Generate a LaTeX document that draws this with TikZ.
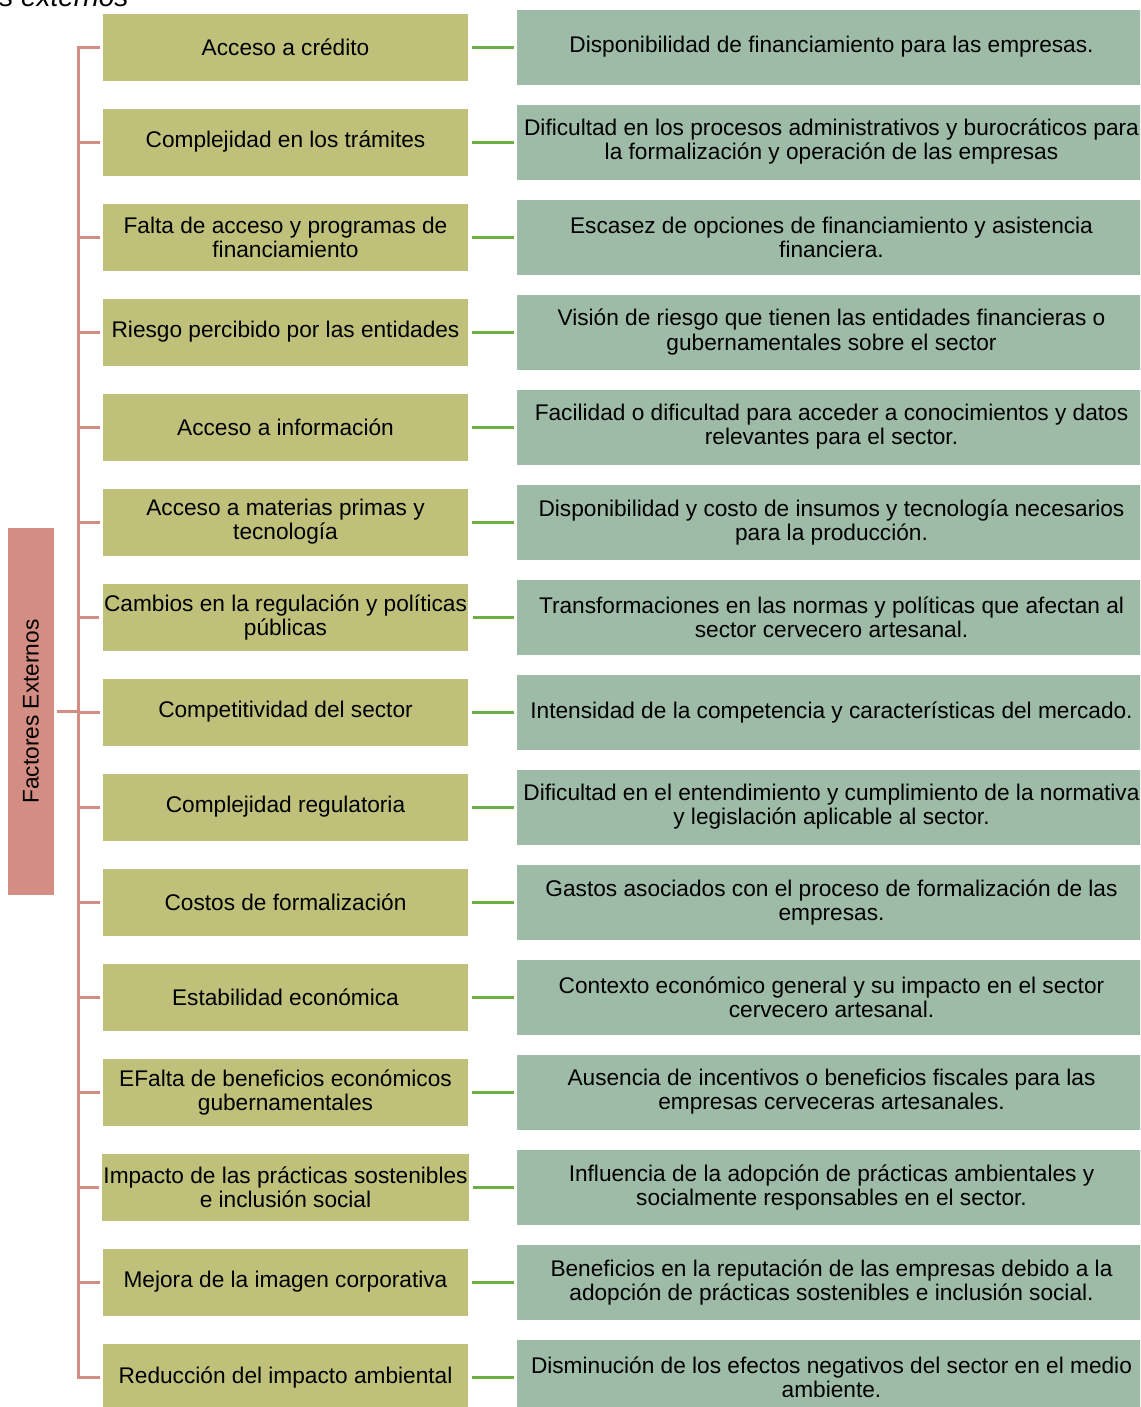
\documentclass[tikz,border=0pt]{standalone}
\usepackage{fontspec}
\setmainfont{Liberation Sans}
\usetikzlibrary{positioning}
\definecolor{rootfill}{HTML}{D38D83}
\definecolor{leftfill}{HTML}{BFC17A}
\definecolor{rightfill}{HTML}{9DBBA7}
\definecolor{trunkline}{HTML}{D38D83}
\definecolor{linkline}{HTML}{6DAF45}
\begin{document}
\begin{tikzpicture}[x=0.75pt, y=-0.75pt, node distance=71.25pt,
  left_node/.style={rectangle, fill=leftfill, minimum width=273.75pt, minimum height=50.25pt, inner xsep=1pt, align=center, font=\fontsize{17}{18}\selectfont},
  right_node/.style={rectangle, fill=rightfill, minimum width=471.75pt, minimum height=56.25pt, inner xsep=1pt, align=center, font=\fontsize{17}{18}\selectfont},
  root_node/.style={rectangle, fill=rootfill, minimum width=275.25pt, minimum height=34.5pt, rotate=90, font=\fontsize{17}{18}\selectfont},
  trunk_edge/.style={draw=trunkline, line width=2.25pt, shorten <=2.25pt, shorten >=2.25pt},
  link_edge/.style={draw=linkline, line width=2.25pt, shorten <=3pt, shorten >=2.25pt}]

  \useasboundingbox (0,0) rectangle (1140,1407);
  \clip (0,0) rectangle (1140,1407);

  \node[anchor=base west, inner sep=0pt, font=\fontsize{21}{22}\selectfont\itshape] (caption) at (-1,6) {s externos};

  \node[left_node] (l1) at (285.5,47) {Acceso a crédito};
  \node[left_node] (l2) [below of=l1] {Complejidad en los trámites};
  \node[left_node] (l3) [below of=l2] {Falta de acceso y programas de\\financiamiento};
  \node[left_node] (l4) [below of=l3] {Riesgo percibido por las entidades};
  \node[left_node] (l5) [below of=l4] {Acceso a información};
  \node[left_node] (l6) [below of=l5] {Acceso a materias primas y\\tecnología};
  \node[left_node] (l7) [below of=l6] {Cambios en la regulación y políticas\\públicas};
  \node[left_node] (l8) [below of=l7] {Competitividad del sector};
  \node[left_node] (l9) [below of=l8] {Complejidad regulatoria};
  \node[left_node] (l10) [below of=l9] {Costos de formalización};
  \node[left_node] (l11) [below of=l10] {Estabilidad económica};
  \node[left_node] (l12) [below of=l11] {EFalta de beneficios económicos\\gubernamentales};
  \node[left_node] (l13) [below of=l12] {Impacto de las prácticas sostenibles\\e inclusión social};
  \node[left_node] (l14) [below of=l13] {Mejora de la imagen corporativa};
  \node[left_node] (l15) [below of=l14] {Reducción del impacto ambiental};

  \node[root_node] (root) at (31,711.5) {Factores Externos};

  \node[right_node] (r1) [right of=l1, node distance=409.5pt] {Disponibilidad de financiamiento para las empresas.};
  \node[right_node] (r2) [right of=l2, node distance=409.5pt] {Dificultad en los procesos administrativos y burocráticos para\\la formalización y operación de las empresas};
  \node[right_node] (r3) [right of=l3, node distance=409.5pt] {Escasez de opciones de financiamiento y asistencia\\financiera.};
  \node[right_node] (r4) [right of=l4, node distance=409.5pt] {Visión de riesgo que tienen las entidades financieras o\\gubernamentales sobre el sector};
  \node[right_node] (r5) [right of=l5, node distance=409.5pt] {Facilidad o dificultad para acceder a conocimientos y datos\\relevantes para el sector.};
  \node[right_node] (r6) [right of=l6, node distance=409.5pt] {Disponibilidad y costo de insumos y tecnología necesarios\\para la producción.};
  \node[right_node] (r7) [right of=l7, node distance=409.5pt] {Transformaciones en las normas y políticas que afectan al\\sector cervecero artesanal.};
  \node[right_node] (r8) [right of=l8, node distance=409.5pt] {Intensidad de la competencia y características del mercado.};
  \node[right_node] (r9) [right of=l9, node distance=409.5pt] {Dificultad en el entendimiento y cumplimiento de la normativa\\y legislación aplicable al sector.};
  \node[right_node] (r10) [right of=l10, node distance=409.5pt] {Gastos asociados con el proceso de formalización de las\\empresas.};
  \node[right_node] (r11) [right of=l11, node distance=409.5pt] {Contexto económico general y su impacto en el sector\\cervecero artesanal.};
  \node[right_node] (r12) [right of=l12, node distance=409.5pt] {Ausencia de incentivos o beneficios fiscales para las\\empresas cerveceras artesanales.};
  \node[right_node] (r13) [right of=l13, node distance=409.5pt] {Influencia de la adopción de prácticas ambientales y\\socialmente responsables en el sector.};
  \node[right_node] (r14) [right of=l14, node distance=409.5pt] {Beneficios en la reputación de las empresas debido a la\\adopción de prácticas sostenibles e inclusión social.};
  \node[right_node] (r15) [right of=l15, node distance=409.5pt] {Disminución de los efectos negativos del sector en el medio\\ambiente.};

  % tree from the root box to every factor
  \foreach \i in {1,...,15}
    \draw[trunk_edge] (root.south) -- ++(24,0) |- (l\i.west);

  \foreach \i in {1,...,15}
    \path[link_edge] (l\i) edge (r\i);
\end{tikzpicture}
\end{document}
